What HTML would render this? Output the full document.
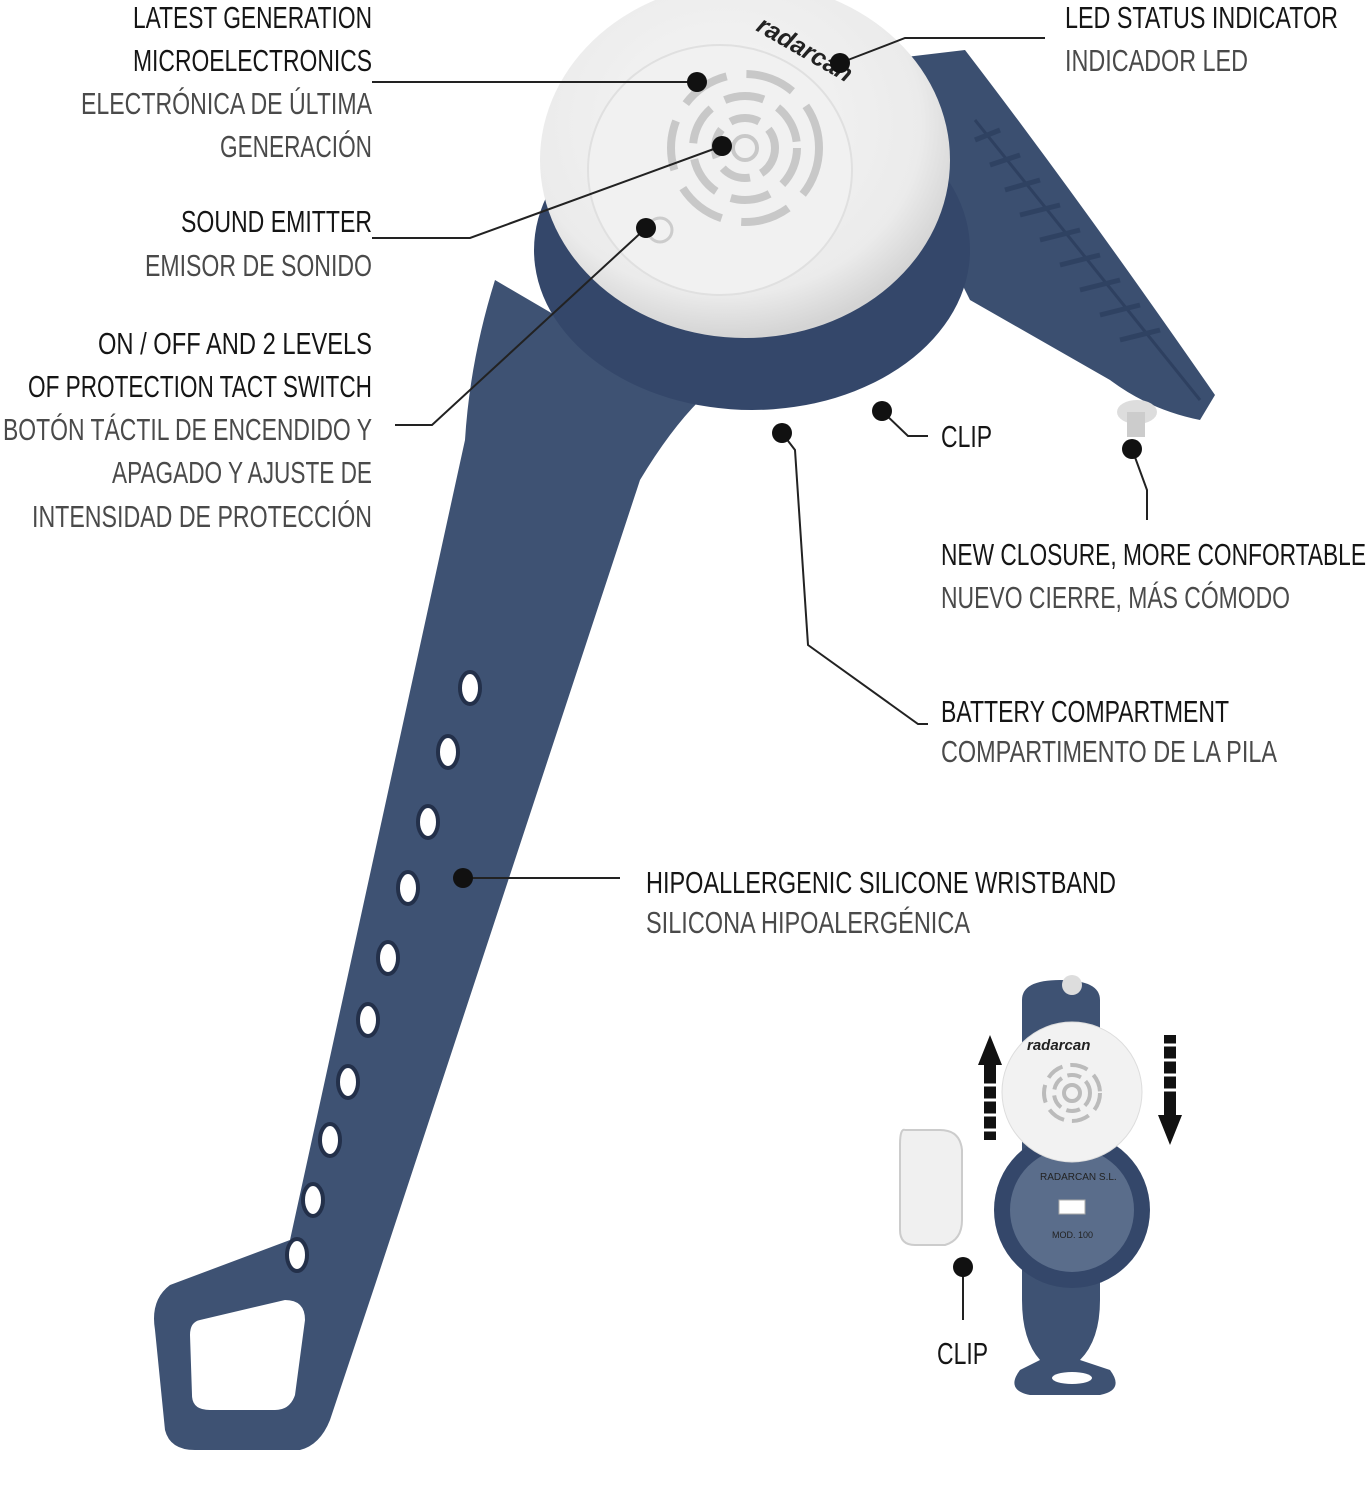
<!DOCTYPE html>
<html><head><meta charset="utf-8"><style>
html,body{margin:0;padding:0;background:#fff;}
svg{display:block}
text{font-family:"Liberation Sans Narrow","Liberation Sans",sans-serif;font-size:31px;}
.a{fill:#151515;}
.b{fill:#4a4a4a;}
</style></head><body>
<svg width="1369" height="1500" viewBox="0 0 1369 1500" xmlns="http://www.w3.org/2000/svg">
<defs>
<radialGradient id="cap" cx="45%" cy="40%" r="60%"><stop offset="0" stop-color="#f6f6f6"/><stop offset="0.8" stop-color="#ebebeb"/><stop offset="1" stop-color="#d4d4d4"/></radialGradient>
</defs>
<path d="M880,60 L965,50 Q1080,200 1215,395 L1200,420 Q1150,410 1110,380 L970,300 L930,220 Z" fill="#3b4f70"/>
<path d="M975,120 L1200,400" stroke="#2e4060" stroke-width="3"/>
<g stroke="#2f4262" stroke-width="5">
<line x1="975" y1="140" x2="1000" y2="130"/><line x1="990" y1="165" x2="1020" y2="155"/><line x1="1005" y1="190" x2="1040" y2="180"/><line x1="1020" y1="215" x2="1060" y2="205"/><line x1="1040" y1="240" x2="1080" y2="230"/><line x1="1060" y1="265" x2="1100" y2="255"/><line x1="1080" y1="290" x2="1120" y2="280"/><line x1="1100" y1="315" x2="1140" y2="305"/><line x1="1120" y1="340" x2="1160" y2="330"/>
</g>
<ellipse cx="1137" cy="412" rx="20" ry="12" fill="#ddd"/><rect x="1127" y="412" width="18" height="25" fill="#ccc"/>
<path d="M495,280 Q470,360 465,440 L290,1240 L170,1285 Q150,1300 155,1330 L165,1430 Q170,1450 195,1450 L300,1450 Q320,1445 330,1420 L375,1285 L640,480 Q670,430 700,400 Z" fill="#3e5273"/>
<path d="M200,1320 L285,1300 Q305,1300 305,1320 L295,1395 Q290,1410 275,1410 L210,1410 Q192,1410 192,1395 L190,1335 Q190,1322 200,1320 Z" fill="#fff"/>
<g fill="#fff" stroke="#23304a" stroke-width="4">
<ellipse cx="470" cy="688" rx="10" ry="16"/><ellipse cx="448" cy="752" rx="10" ry="16"/><ellipse cx="428" cy="822" rx="10" ry="16"/><ellipse cx="408" cy="888" rx="10" ry="16"/><ellipse cx="388" cy="958" rx="10" ry="16"/><ellipse cx="368" cy="1020" rx="10" ry="16"/><ellipse cx="348" cy="1082" rx="10" ry="16"/><ellipse cx="330" cy="1140" rx="10" ry="16"/><ellipse cx="313" cy="1200" rx="10" ry="16"/><ellipse cx="297" cy="1255" rx="10" ry="16"/>
</g>
<ellipse cx="752" cy="250" rx="218" ry="160" fill="#34476a"/>
<ellipse cx="745" cy="160" rx="205" ry="178" fill="url(#cap)"/>
<ellipse cx="720" cy="170" rx="132" ry="125" fill="#f1f1f1" stroke="#e0e0e0" stroke-width="2"/>
<g fill="none" stroke="#c8c8c8" stroke-width="8">
<circle cx="745" cy="148" r="12" stroke-width="4"/>
<circle cx="745" cy="148" r="30" stroke-dasharray="30 12"/>
<circle cx="745" cy="148" r="52" stroke-dasharray="40 16"/>
<circle cx="745" cy="148" r="74" stroke-dasharray="50 20"/>
</g>
<circle cx="660" cy="230" r="12" fill="none" stroke="#ccc" stroke-width="3"/>
<text x="755" y="30" transform="rotate(30 755 30)" style="font-family:'Liberation Sans',sans-serif;font-size:25px;font-weight:bold;font-style:italic" fill="#222">radarcan</text>
<g stroke="#222" stroke-width="2" fill="none">
<polyline points="372,82 697,82"/>
<polyline points="840,63 905,38 1045,38"/>
<polyline points="372,238 470,238 722,146"/>
<polyline points="395,425 432,425 646,228"/>
<polyline points="882,411 908,436 928,436"/>
<polyline points="1132,449 1147,490 1147,520"/>
<polyline points="782,433 795,450 808,645 918,724 928,724"/>
<polyline points="463,878 620,878"/>
<polyline points="963,1267 963,1320"/>
</g>
<g fill="#111">
<circle cx="697" cy="82" r="10"/><circle cx="840" cy="63" r="10"/><circle cx="722" cy="146" r="10"/><circle cx="646" cy="228" r="10"/>
<circle cx="882" cy="411" r="10"/><circle cx="1132" cy="449" r="10"/><circle cx="782" cy="433" r="10"/><circle cx="463" cy="878" r="10"/><circle cx="963" cy="1267" r="10"/>
</g>
<path d="M1022,1000 Q1022,980 1060,980 Q1100,980 1100,1000 L1100,1300 Q1100,1340 1080,1360 L1110,1370 Q1125,1390 1100,1395 L1030,1395 Q1005,1390 1020,1370 L1040,1360 Q1022,1340 1022,1300 Z" fill="#3e5273"/>
<ellipse cx="1072" cy="1378" rx="20" ry="6" fill="#fff"/>
<circle cx="1072" cy="1210" r="78" fill="#34476a"/>
<circle cx="1072" cy="1210" r="62" fill="#5a6d8b"/>
<rect x="1059" y="1200" width="26" height="14" fill="#fff" stroke="#aaa"/>
<text x="1040" y="1180" style="font-size:10px;font-family:'Liberation Sans',sans-serif" fill="#222">RADARCAN S.L.</text>
<text x="1052" y="1238" style="font-size:9px;font-family:'Liberation Sans',sans-serif" fill="#222">MOD. 100</text>
<circle cx="1072" cy="985" r="10" fill="#ddd"/>
<circle cx="1072" cy="1092" r="70" fill="#f2f2f2" stroke="#ddd"/>
<g fill="none" stroke="#bbb" stroke-width="4"><circle cx="1072" cy="1093" r="8"/><circle cx="1072" cy="1093" r="18" stroke-dasharray="14 6"/><circle cx="1072" cy="1093" r="28" stroke-dasharray="18 8"/></g>
<text x="1027" y="1050" style="font-family:'Liberation Sans',sans-serif;font-size:15px;font-weight:bold;font-style:italic" fill="#222">radarcan</text>
<path d="M905,1130 Q900,1128 900,1145 L900,1230 Q900,1245 915,1245 L945,1245 Q962,1240 962,1220 L962,1150 Q960,1130 940,1130 Z" fill="#f0f0f0" stroke="#ccc" stroke-width="2"/>
<path d="M990,1035 L1002,1065 L978,1065 Z M984,1065 L996,1065 L996,1140 L984,1140 Z" fill="#111"/>
<path d="M1170,1145 L1182,1115 L1158,1115 Z M1164,1035 L1176,1035 L1176,1115 L1164,1115 Z" fill="#111"/>
<g stroke="#fff" stroke-width="3"><line x1="980" y1="1085" x2="1000" y2="1085"/><line x1="980" y1="1100" x2="1000" y2="1100"/><line x1="980" y1="1115" x2="1000" y2="1115"/><line x1="980" y1="1130" x2="1000" y2="1130"/><line x1="1160" y1="1045" x2="1180" y2="1045"/><line x1="1160" y1="1060" x2="1180" y2="1060"/><line x1="1160" y1="1075" x2="1180" y2="1075"/><line x1="1160" y1="1090" x2="1180" y2="1090"/></g>
<g text-anchor="start">
<text class="a" x="133" y="28" textLength="239" lengthAdjust="spacingAndGlyphs">LATEST GENERATION</text>
<text class="a" x="133" y="71" textLength="239" lengthAdjust="spacingAndGlyphs">MICROELECTRONICS</text>
<text class="b" x="81" y="114" textLength="291" lengthAdjust="spacingAndGlyphs">ELECTRÓNICA DE ÚLTIMA</text>
<text class="b" x="220" y="157" textLength="152" lengthAdjust="spacingAndGlyphs">GENERACIÓN</text>
<text class="a" x="181" y="232" textLength="191" lengthAdjust="spacingAndGlyphs">SOUND EMITTER</text>
<text class="b" x="145" y="276" textLength="227" lengthAdjust="spacingAndGlyphs">EMISOR DE SONIDO</text>
<text class="a" x="98" y="354" textLength="274" lengthAdjust="spacingAndGlyphs">ON / OFF AND 2 LEVELS</text>
<text class="a" x="28" y="397" textLength="344" lengthAdjust="spacingAndGlyphs">OF PROTECTION TACT SWITCH</text>
<text class="b" x="3" y="440" textLength="369" lengthAdjust="spacingAndGlyphs">BOTÓN TÁCTIL DE ENCENDIDO Y</text>
<text class="b" x="112" y="483" textLength="260" lengthAdjust="spacingAndGlyphs">APAGADO Y AJUSTE DE</text>
<text class="b" x="32" y="527" textLength="340" lengthAdjust="spacingAndGlyphs">INTENSIDAD DE PROTECCIÓN</text>
<text class="a" x="1065" y="28" textLength="273" lengthAdjust="spacingAndGlyphs">LED STATUS INDICATOR</text>
<text class="b" x="1065" y="71" textLength="183" lengthAdjust="spacingAndGlyphs">INDICADOR LED</text>
<text class="a" x="941" y="447" textLength="51" lengthAdjust="spacingAndGlyphs">CLIP</text>
<text class="a" x="941" y="565" textLength="425" lengthAdjust="spacingAndGlyphs">NEW CLOSURE, MORE CONFORTABLE</text>
<text class="b" x="941" y="608" textLength="349" lengthAdjust="spacingAndGlyphs">NUEVO CIERRE, MÁS CÓMODO</text>
<text class="a" x="941" y="722" textLength="288" lengthAdjust="spacingAndGlyphs">BATTERY COMPARTMENT</text>
<text class="b" x="941" y="762" textLength="336" lengthAdjust="spacingAndGlyphs">COMPARTIMENTO DE LA PILA</text>
<text class="a" x="646" y="893" textLength="470" lengthAdjust="spacingAndGlyphs">HIPOALLERGENIC SILICONE WRISTBAND</text>
<text class="b" x="646" y="933" textLength="324" lengthAdjust="spacingAndGlyphs">SILICONA HIPOALERGÉNICA</text>
<text class="a" x="937" y="1364" textLength="51" lengthAdjust="spacingAndGlyphs">CLIP</text>
</g>
</svg>
</body></html>
